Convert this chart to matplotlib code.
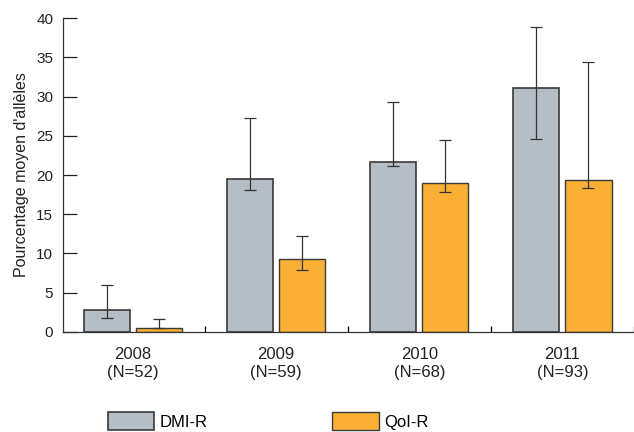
import numpy as np
import matplotlib.pyplot as plt
from matplotlib.ticker import FixedLocator

plt.rcParams['font.family'] = ['Liberation Sans', 'DejaVu Sans']

years = ['2008', '2009', '2010', '2011']
n_samples = [52, 59, 68, 93]
dmi = [2.8, 19.5, 21.6, 31.1]
dmi_up = [6.0, 27.2, 29.3, 38.9]
dmi_low = [1.8, 18.1, 21.2, 24.6]
qoi = [0.45, 9.3, 19.0, 19.3]
qoi_up = [1.6, 12.2, 24.4, 34.4]
qoi_low = [0.45, 7.9, 17.8, 18.3]

gray = '#b5bdc6'
orange = '#fbb035'
edge = '#3a3a3a'

fig = plt.figure(figsize=(6.34, 4.32), dpi=100)
ax = fig.add_axes([0.0994, 0.2315, 0.9006, 0.7268])

x = np.arange(len(years))
w = 0.322
off = 0.182

b1 = ax.bar(x - off, dmi, w, color=gray, edgecolor=edge, linewidth=1.2, label='DMI-R')
b2 = ax.bar(x + off, qoi, w, color=orange, edgecolor=edge, linewidth=1.0, label='QoI-R')

dmi_err = [np.array(dmi) - np.array(dmi_low), np.array(dmi_up) - np.array(dmi)]
qoi_err = [np.array(qoi) - np.array(qoi_low), np.array(qoi_up) - np.array(qoi)]
ax.errorbar(x - off, dmi, yerr=dmi_err, fmt='none', ecolor='#333333',
            elinewidth=0.9, capsize=4, capthick=0.9)
ax.errorbar(x + off, qoi, yerr=qoi_err, fmt='none', ecolor='#333333',
            elinewidth=0.9, capsize=4, capthick=0.9)

ax.set_xlim(-0.49, 3.5)
ax.set_ylim(0, 40)
ax.set_yticks(np.arange(0, 41, 5))
ax.tick_params(axis='y', direction='in', length=10, width=0.9, labelsize=11,
               colors='#222222', pad=7)

ax.set_xticks(x)
ax.set_xticklabels([f'{y}\n(N={n})' for y, n in zip(years, n_samples)],
                   fontsize=12, color='#222222', linespacing=1.25)
ax.tick_params(axis='x', length=0, pad=11)
ax.xaxis.set_minor_locator(FixedLocator(x + 0.5))
ax.tick_params(axis='x', which='minor', direction='in', length=4, width=0.9)

for s in ['top', 'right']:
    ax.spines[s].set_visible(False)
for s in ['left', 'bottom']:
    ax.spines[s].set_linewidth(0.9)
    ax.spines[s].set_color('#333333')

ax.set_ylabel("Pourcentage moyen d'allèles", fontsize=11.5, color='#222222', labelpad=5)

fig.legend(handles=[b1, b2], loc='lower left', bbox_to_anchor=(0.17, 0.004),
           ncol=2, frameon=False, fontsize=12, handlelength=2.8,
           handleheight=1.3, handletextpad=0.3, columnspacing=7.5,
           borderpad=0, borderaxespad=0)

fig.savefig('out.png', dpi=100)
